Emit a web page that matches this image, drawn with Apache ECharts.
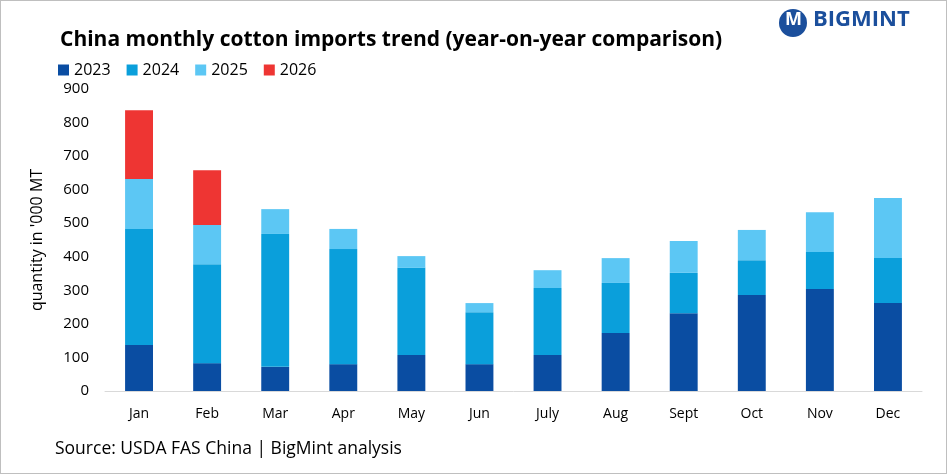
<!DOCTYPE html>
<html>
<head>
<meta charset="utf-8">
<script src="https://cdn.jsdelivr.net/npm/echarts@6/dist/echarts.min.js"></script>
<style>
html,body{margin:0;padding:0;background:#fff;}
#chart{width:945px;height:472px;border:1px solid #bfbfbf;}
</style>
</head>
<body>
<div id="chart"></div>
<script>
var months = ['Jan', 'Feb', 'Mar', 'Apr', 'May', 'Jun', 'July', 'Aug', 'Sept', 'Oct', 'Nov', 'Dec'];
var y2023 = [137, 83, 72, 80, 107, 80, 107, 173, 232, 286, 304, 262];
var y2024 = [346, 295, 396, 343, 260, 155, 200, 149, 120, 104, 110, 134];
var y2025 = [149, 117, 74, 60, 35, 27, 53, 74, 95, 90, 119, 179];
var y2026 = [205, 163, null, null, null, null, null, null, null, null, null, null];

var colors = ['#0a4da2', '#0a9fdb', '#5cc7f4', '#ee3533'];
var names = ['2023', '2024', '2025', '2026'];
var data = [y2023, y2024, y2025, y2026];

var chart = echarts.init(document.getElementById('chart'));
var option = {
    animation: false,
    title: {
        text: 'China monthly cotton imports trend (year-on-year comparison)',
        left: 54,
        top: 24,
        textStyle: { fontFamily: 'Open Sans', fontSize: 21, fontWeight: 'bold', color: '#000' }
    },
    legend: {
        data: names,
        left: 52,
        top: 56,
        icon: 'rect',
        itemWidth: 11,
        itemHeight: 11,
        itemGap: 16,
        textStyle: { fontFamily: 'Open Sans', fontSize: 16, color: '#000' }
    },
    graphic: [{
        type: 'text',
        left: 54,
        top: 439,
        style: { text: 'Source: USDA FAS China | BigMint analysis', font: '17.5px "Open Sans"', fill: '#000' }
    }, {
        type: 'text',
        left: 812,
        top: 8,
        style: { text: 'BIGMINT', font: 'bold 22px "Open Sans"', fill: '#1b4f9c' }
    }, {
        type: 'circle',
        shape: { cx: 792, cy: 22, r: 14 },
        style: { fill: '#1b4f9c' }
    }, {
        type: 'text',
        left: 784,
        top: 10,
        style: { text: 'M', font: 'bold 18px "Open Sans"', fill: '#fff' }
    }],
    grid: { left: 104, right: 24, top: 88, bottom: 82 },
    xAxis: {
        type: 'category',
        data: months,
        axisTick: { show: false },
        axisLine: { lineStyle: { color: '#d9d9d9' } },
        axisLabel: { color: '#000', fontFamily: 'Open Sans', fontSize: 14, margin: 16 }
    },
    yAxis: {
        type: 'value',
        min: 0,
        max: 900,
        interval: 100,
        name: "quantity in '000 MT",
        nameLocation: 'middle',
        nameGap: 60,
        nameTextStyle: { color: '#000', fontFamily: 'Open Sans', fontSize: 16 },
        splitLine: { show: false },
        axisLabel: { color: '#000', fontFamily: 'Open Sans', fontSize: 15, margin: 16 }
    },
    series: names.map(function(n, i) {
        return {
            name: n,
            type: 'bar',
            stack: 'total',
            barWidth: '41%',
            itemStyle: { color: colors[i] },
            data: data[i]
        };
    })
};
chart.setOption(option);
</script>
</body>
</html>
